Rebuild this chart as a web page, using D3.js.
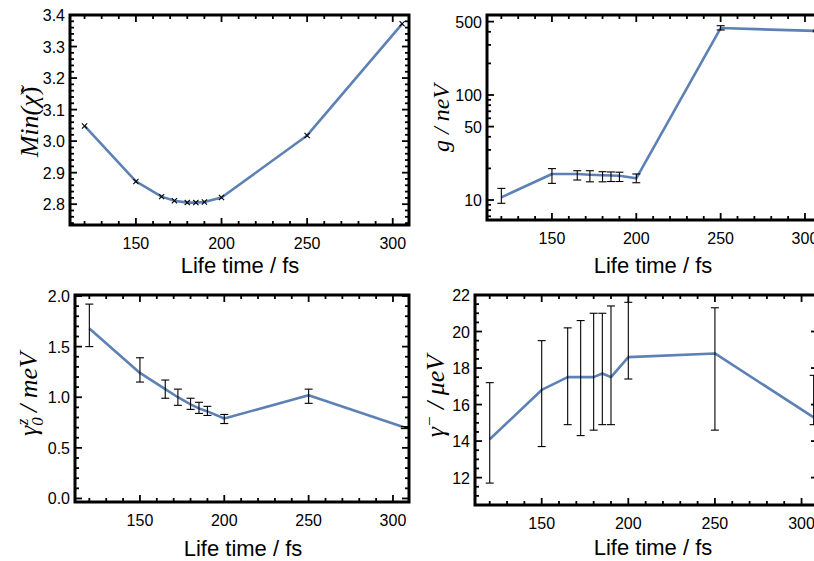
<!DOCTYPE html>
<html><head><meta charset="utf-8">
<script src="https://cdn.jsdelivr.net/npm/d3@7/dist/d3.min.js"></script>
<style>body{margin:0;background:#fff}svg{display:block}</style>
</head><body><svg id="c" width="814" height="561"></svg>
<script>
// ---- data ----
const xTicks = [150, 200, 250, 300];
const lifeTimeChi = [120, 150, 165, 172.5, 180, 185, 190, 200, 250, 305.5];
const minChi = [3.048, 2.872, 2.824, 2.811, 2.805, 2.805, 2.807, 2.821, 3.018, 3.372];

const lifeTime = [120, 150, 165, 172.5, 180, 185, 190, 200, 250, 307];
const gVal = [10.6, 17.7, 17.7, 17.4, 17.2, 17.1, 17.0, 16.1, 434, 407];
const gLo  = [9.3, 14.4, 15.5, 14.9, 14.9, 15.0, 15.0, 14.6, 416, 400];
const gHi  = [12.9, 19.9, 19.0, 19.0, 18.6, 18.5, 18.4, 17.7, 457, 414];
const gTicks = [10, 50, 100, 500];

const g0Val = [1.68, 1.24, 1.08, 1.00, 0.93, 0.89, 0.86, 0.79, 1.02, 0.70];
const g0Lo  = [1.50, 1.15, 0.99, 0.92, 0.88, 0.84, 0.82, 0.74, 0.94, 0.69];
const g0Hi  = [1.92, 1.39, 1.17, 1.08, 0.99, 0.95, 0.91, 0.83, 1.08, 0.71];
const g0Ticks = [0.0, 0.5, 1.0, 1.5, 2.0];

const gmVal = [14.1, 16.8, 17.5, 17.5, 17.5, 17.7, 17.5, 18.6, 18.8, 15.3];
const gmLo  = [11.7, 13.7, 14.9, 14.3, 14.6, 14.9, 14.9, 17.4, 14.6, 14.9];
const gmHi  = [17.2, 19.5, 20.2, 20.6, 21.0, 21.0, 21.4, 21.6, 21.3, 17.6];
const gmTicks = [12, 14, 16, 18, 20, 22];
const chiTicks = [2.8, 2.9, 3.0, 3.1, 3.2, 3.3, 3.4];

const xLabel = "Life time / fs";

// ---- drawing ----
const svg = d3.select("#c");
const LINE = "#5E81B5";
const xDomain = [111.5, 309.5];

function panel(o) {
  const g = svg.append("g");
  const x = d3.scaleLinear().domain(xDomain).range([o.l, o.r]);
  const y = (o.log ? d3.scaleLog() : d3.scaleLinear()).domain(o.yDomain).range([o.b, o.t]);
  const cid = "clip" + o.id;
  svg.append("clipPath").attr("id", cid).append("rect")
    .attr("x", o.l).attr("y", o.t).attr("width", o.r - o.l).attr("height", o.b - o.t);
  const inner = g.append("g").attr("clip-path", `url(#${cid})`);

  const xMinor = d3.range(120, 310, 10).filter(v => !xTicks.includes(v));
  const tk = g.append("g").attr("stroke", "#000").attr("stroke-width", 1.8);
  function xt(v, len) {
    const px = x(v);
    if (px < o.l || px > o.r) return;
    tk.append("line").attr("x1", px).attr("x2", px).attr("y1", o.b).attr("y2", o.b - len);
    tk.append("line").attr("x1", px).attr("x2", px).attr("y1", o.t).attr("y2", o.t + len);
  }
  function yt(v, len) {
    const py = y(v);
    if (py < o.t - 0.5 || py > o.b + 0.5) return;
    tk.append("line").attr("y1", py).attr("y2", py).attr("x1", o.l).attr("x2", o.l + len);
    tk.append("line").attr("y1", py).attr("y2", py).attr("x1", o.r).attr("x2", o.r - len);
  }
  xTicks.forEach(v => xt(v, 7));
  xMinor.forEach(v => xt(v, 4));
  o.yTicks.forEach(v => yt(v, 7));
  o.yMinor.forEach(v => yt(v, 4));

  const lab = g.append("g").attr("font-family", "Liberation Sans, Arial, sans-serif")
    .attr("font-size", 16).attr("fill", "#000");
  xTicks.forEach(v => {
    lab.append("text").attr("x", x(v)).attr("y", o.b + 24).attr("text-anchor", "middle").text(v);
  });
  o.yTicks.forEach(v => {
    lab.append("text").attr("x", o.l - 5).attr("y", y(v) + 6).attr("text-anchor", "end")
      .text(o.fmt(v));
  });
  g.append("text").attr("x", o.xt).attr("y", o.b + o.xtDy).attr("text-anchor", "middle")
    .attr("font-family", "Liberation Sans, Arial, sans-serif").attr("font-size", 22).text(xLabel);
  const yl = g.append("text").attr("transform", `translate(${o.yx},${o.yy}) rotate(-90)`)
    .attr("text-anchor", "middle").attr("font-family", "Liberation Serif, Times New Roman, serif")
    .attr("font-style", "italic").attr("font-size", o.ys);
  o.ylab(yl);

  inner.append("path").datum(o.xs.map((d, i) => [d, o.vals[i]]))
    .attr("fill", "none").attr("stroke", LINE).attr("stroke-width", 2.6)
    .attr("stroke-linejoin", "round")
    .attr("d", d3.line().x(d => x(d[0])).y(d => y(d[1])));

  if (o.lo) {
    const eb = g.append("g").attr("stroke", "#000").attr("stroke-width", 1.1);
    o.xs.forEach((d, i) => {
      const px = x(d);
      eb.append("line").attr("x1", px).attr("x2", px).attr("y1", y(o.lo[i])).attr("y2", y(o.hi[i]));
      [o.lo[i], o.hi[i]].forEach(v => {
        eb.append("line").attr("x1", px - 4).attr("x2", Math.min(px + 4, o.r)).attr("y1", y(v)).attr("y2", y(v));
      });
    });
  }
  if (o.markers) {
    const mk = g.append("g").attr("stroke", "#000").attr("stroke-width", 1.1);
    o.xs.forEach((d, i) => {
      const px = x(d), py = y(o.vals[i]);
      mk.append("line").attr("x1", px - 2.6).attr("x2", px + 2.6).attr("y1", py - 2.6).attr("y2", py + 2.6);
      mk.append("line").attr("x1", px - 2.6).attr("x2", px + 2.6).attr("y1", py + 2.6).attr("y2", py - 2.6);
    });
  }

  g.append("rect").attr("x", o.l).attr("y", o.t).attr("width", o.r - o.l).attr("height", o.b - o.t)
    .attr("fill", "none").attr("stroke", "#000").attr("stroke-width", 3);
}

panel({
  id: 1, l: 70, r: 409, t: 15, b: 225, yDomain: [2.734, 3.4],
  yTicks: chiTicks, yMinor: d3.range(2.74, 3.401, 0.02).map(v => +v.toFixed(2)).filter(v => !chiTicks.some(t => Math.abs(t - v) < 1e-6)),
  fmt: d3.format(".1f"),
  xs: lifeTimeChi, vals: minChi, markers: true,
  xt: 240, xtDy: 48, yx: 38, yy: 122, ys: 26,
  ylab: t => {
    t.append("tspan").text("Min(");
    t.append("tspan").text("χ\u0303");
    t.append("tspan").attr("font-style", "normal").text(")");
  }
});

panel({
  id: 2, l: 487, r: 821, t: 15, b: 220, log: true, yDomain: [6.45, 578],
  yTicks: gTicks, yMinor: [7, 8, 9, 20, 30, 40, 60, 70, 80, 90, 200, 300, 400],
  fmt: d3.format("d"),
  xs: lifeTime, vals: gVal, lo: gLo, hi: gHi,
  xt: 653, xtDy: 53, yx: 449, yy: 118, ys: 24,
  ylab: t => t.text("g / neV")
});

panel({
  id: 3, l: 75, r: 409, t: 295, b: 502, yDomain: [-0.035, 2.01],
  yTicks: g0Ticks, yMinor: d3.range(0, 2.01, 0.1).map(v => +v.toFixed(1)).filter(v => !g0Ticks.some(t => Math.abs(t - v) < 1e-6)),
  fmt: d3.format(".1f"),
  xs: lifeTime, vals: g0Val, lo: g0Lo, hi: g0Hi,
  xt: 243, xtDy: 54, yx: 37, yy: 394, ys: 26,
  ylab: t => {
    t.append("tspan").text("γ");
    t.append("tspan").attr("font-size", 17).attr("dy", 6).text("0");
    t.append("tspan").attr("font-size", 17).attr("dx", -8).attr("dy", -15).text("z");
    t.append("tspan").attr("dy", 9).text(" / meV");
  }
});

panel({
  id: 4, l: 475, r: 818, t: 295, b: 505, yDomain: [10.5, 22.0],
  yTicks: gmTicks, yMinor: d3.range(11, 22.01, 0.5).filter(v => !gmTicks.includes(v)),
  fmt: d3.format("d"),
  xs: lifeTime, vals: gmVal, lo: gmLo, hi: gmHi,
  xt: 653, xtDy: 50, yx: 444, yy: 396, ys: 26,
  ylab: t => {
    t.append("tspan").text("γ");
    t.append("tspan").attr("font-size", 17).attr("dy", -9).text("−");
    t.append("tspan").attr("dy", 9).text(" / μeV");
  }
});
</script>
</body></html>
